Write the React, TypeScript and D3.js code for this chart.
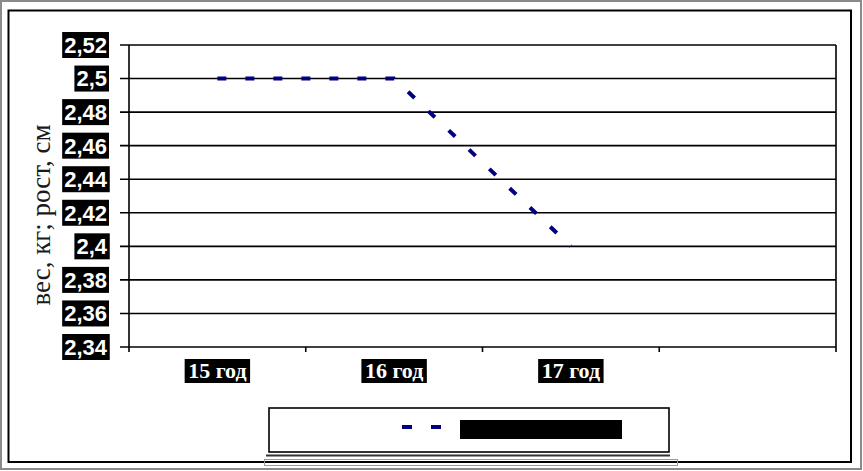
import { useEffect, useRef } from 'react'
import * as d3 from 'd3'

// chart values
const categories = ['15 год', '16 год', '17 год', '']
const weight = [2.5, 2.5, 2.4]
const yTicks = [2.34, 2.36, 2.38, 2.4, 2.42, 2.44, 2.46, 2.48, 2.5, 2.52]
const yTitle = 'вес, кг; рост, см'
const seriesName = 'вес, кг'

const W = 863
const H = 471
const plot = { left: 129, right: 836, top: 45, bottom: 347 }
const navy = '#000080'

const App = () => {
  const ref = useRef<SVGSVGElement>(null)

  useEffect(() => {
    const svg = d3.select(ref.current)
    svg.selectAll('*').remove()

    const x = d3.scaleBand().domain(categories).range([plot.left, plot.right]).padding(0)
    const y = d3.scaleLinear().domain([2.34, 2.52]).range([plot.bottom, plot.top])
    const fmt = (v: number) => String(v).replace('.', ',')
    const cx = (c: string) => (x(c) as number) + x.bandwidth() / 2

    svg.append('rect').attr('width', W).attr('height', H).attr('fill', '#fff')

    // outer gray frame + inner black frame
    svg.append('rect')
      .attr('x', 1).attr('y', 1).attr('width', W - 3).attr('height', H - 3)
      .attr('fill', 'none').attr('stroke', '#8a8a8a').attr('stroke-width', 2)
    svg.append('rect')
      .attr('x', 8.5).attr('y', 10.5).attr('width', 842.5).attr('height', 451.5)
      .attr('fill', 'none').attr('stroke', '#000').attr('stroke-width', 2)

    // horizontal gridlines (with the little outside tick on the left)
    svg.append('g').selectAll('line').data(yTicks).join('line')
      .attr('x1', plot.left - 9).attr('x2', plot.right)
      .attr('y1', d => y(d)).attr('y2', d => y(d))
      .attr('stroke', '#000').attr('stroke-width', 1.6)

    // left axis and right edge
    ;[plot.left, plot.right].forEach(px => {
      svg.append('line')
        .attr('x1', px).attr('x2', px).attr('y1', plot.top).attr('y2', plot.bottom + 5)
        .attr('stroke', '#000').attr('stroke-width', 1.6)
    })

    // category ticks below the axis
    svg.append('g').selectAll('line').data(categories.slice(0, 3)).join('line')
      .attr('x1', d => (x(d) as number) + x.bandwidth())
      .attr('x2', d => (x(d) as number) + x.bandwidth())
      .attr('y1', plot.bottom).attr('y2', plot.bottom + 5)
      .attr('stroke', '#000').attr('stroke-width', 1.6)

    // y tick labels, white on black boxes
    const yl = svg.append('g')
    yTicks.forEach(v => {
      const g = yl.append('g')
      const t = g.append('text')
        .attr('x', plot.left - 22).attr('y', y(v)).attr('dy', '0.36em')
        .attr('text-anchor', 'end')
        .style('font-family', '"Liberation Sans", Arial, sans-serif')
        .style('font-weight', 'bold').style('font-size', '22px')
        .attr('fill', '#fff')
        .text(fmt(v))
      const b = (t.node() as SVGTextElement).getBBox()
      g.insert('rect', 'text')
        .attr('x', b.x - 2).attr('y', y(v) - 13)
        .attr('width', b.width + 4).attr('height', 26)
        .attr('fill', '#000')
    })

    // category labels, white on black boxes
    const xl = svg.append('g')
    categories.filter(c => c !== '').forEach(c => {
      const g = xl.append('g')
      const t = g.append('text')
        .attr('x', cx(c)).attr('y', 378)
        .attr('text-anchor', 'middle')
        .style('font-family', '"Liberation Serif", "Times New Roman", serif')
        .style('font-weight', 'bold').style('font-size', '22px')
        .attr('fill', '#fff')
        .text(c)
      const b = (t.node() as SVGTextElement).getBBox()
      g.insert('rect', 'text')
        .attr('x', b.x - 3.5).attr('y', 359)
        .attr('width', b.width + 7).attr('height', 24)
        .attr('fill', '#000')
    })

    // y title
    svg.append('text')
      .attr('transform', 'translate(50,215) rotate(-90)')
      .attr('text-anchor', 'middle')
      .style('font-family', '"Liberation Serif", "Times New Roman", serif')
      .style('font-size', '27px')
      .attr('fill', '#1a1a1a')
      .text(yTitle)

    // the series
    const line = d3.line<number>()
      .x((_, i) => cx(categories[i]))
      .y(d => y(d))
    svg.append('path')
      .attr('d', line(weight))
      .attr('fill', 'none').attr('stroke', navy).attr('stroke-width', 4)
      .attr('stroke-dasharray', '9 19')

    // legend
    const lg = svg.append('g')
    lg.append('line')
      .attr('x1', 266).attr('x2', 670).attr('y1', 455.5).attr('y2', 455.5)
      .attr('stroke', '#333').attr('stroke-width', 2)
    lg.append('rect')
      .attr('x', 264.5).attr('y', 459.5).attr('width', 413).attr('height', 6)
      .attr('fill', 'none').attr('stroke', '#999').attr('stroke-width', 1)
    lg.append('rect')
      .attr('x', 269).attr('y', 408).attr('width', 400).attr('height', 44)
      .attr('fill', '#fff').attr('stroke', '#000').attr('stroke-width', 1.6)
    lg.append('line')
      .attr('x1', 402).attr('x2', 465).attr('y1', 427).attr('y2', 427)
      .attr('stroke', navy).attr('stroke-width', 4).attr('stroke-dasharray', '10 19')
    lg.append('rect')
      .attr('x', 460).attr('y', 420).attr('width', 162).attr('height', 19)
      .attr('fill', '#000')
    lg.append('text')
      .attr('x', 541).attr('y', 435).attr('text-anchor', 'middle')
      .style('font-family', '"Liberation Serif", serif').style('font-size', '16px')
      .attr('fill', '#000')
      .text(seriesName)
  }, [])

  return (
    <div style={{ position: 'fixed', left: 0, top: 0 }}>
      <svg ref={ref} width={W} height={H} style={{ display: 'block' }} />
    </div>
  )
}

export default App
